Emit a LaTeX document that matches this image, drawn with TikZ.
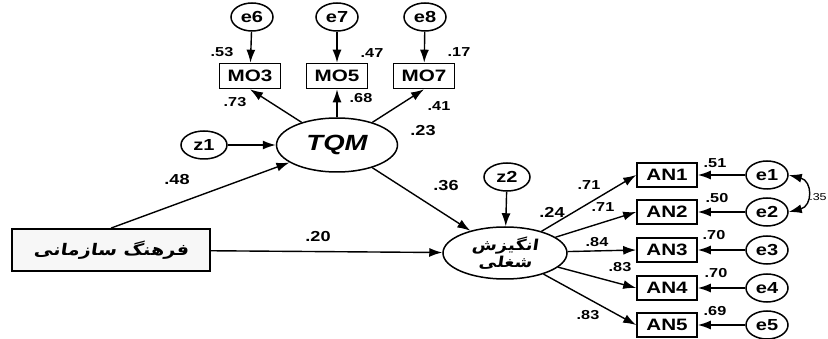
\documentclass[tikz,border=0pt]{standalone}
\usepackage{fontspec}
\setmainfont{Liberation Sans}[FakeStretch=1.25]
\newfontfamily\arabicfont[Script=Arabic,FakeStretch=1.2,FakeSlant=0.15]{DejaVu Sans}
\TeXXeTstate=1
\usetikzlibrary{arrows.meta,shapes.geometric}
\begin{document}
\begin{tikzpicture}[x=1pt,y=-1pt,
  err/.style={ellipse,draw,line width=1.5pt,minimum width=42pt,minimum height=28pt,inner sep=0pt,font=\bfseries\fontsize{16}{16}\selectfont},
  obs/.style={rectangle,draw,line width=1.6pt,minimum width=61pt,minimum height=25pt,inner sep=0pt,font=\bfseries\fontsize{16.5}{16.5}\selectfont},
  lat/.style={ellipse,draw,line width=1.5pt,inner sep=0pt},
  arr/.style={-{Latex[length=13pt,width=9pt]},line width=1.4pt},
  cov/.style={{Latex[length=13pt,width=9pt]}-{Latex[length=13pt,width=9pt]},line width=1.4pt},
  num/.style={inner sep=0pt,font=\bfseries\fontsize{13}{13}\selectfont},
  pnum/.style={inner sep=0pt,font=\bfseries\fontsize{14.5}{14.5}\selectfont}]
\useasboundingbox (0,0) rectangle (828,339);
% top measurement part
\node[err] (e6) at (252,17) {e6};
\node[err] (e7) at (337,17) {e7};
\node[err] (e8) at (425,17) {e8};
\node[obs] (mo3) at (250,76) {MO3};
\node[obs] (mo5) at (337,76) {MO5};
\node[obs] (mo7) at (424,76) {MO7};
\node[lat,minimum width=121pt,minimum height=54pt,font=\bfseries\itshape\fontsize{22}{22}\selectfont] (tqm) at (337,145) {TQM};
\node[err,minimum width=46pt] (z1) at (204,145) {z1};
\node[draw,line width=1.8pt,fill=gray!6,minimum width=198pt,minimum height=42pt,inner sep=0pt,font=\arabicfont\bfseries\fontsize{16}{16}\selectfont] (cul) at (111,250) {\beginR فرهنگ سازمانی\endR};
\node[lat,minimum width=124pt,minimum height=52pt,align=center,font=\arabicfont\bfseries\fontsize{15}{17}\selectfont] (mot) at (505,253) {\beginR انگیزش\endR\\\beginR شغلی\endR};
\node[err,minimum width=46pt] (z2) at (507,177) {z2};
\foreach \i/\y in {1/175,2/212,3/250,4/288,5/325}{
  \node[obs,minimum width=60pt,minimum height=24pt] (an\i) at (667,\y) {AN\i};
  \node[err] (ee\i) at (767,\y) {e\i};
}
% arrows
\draw[arr] (e6) -- (mo3);
\draw[arr] (e7) -- (mo5);
\draw[arr] (e8) -- (mo7);
\draw[arr] (tqm) -- (mo3.south);
\draw[arr] (tqm) -- (mo5);
\draw[arr] (tqm) -- (mo7.south);
\draw[arr] (z1) -- (tqm);
\draw[arr] (cul.north) -- (tqm);
\draw[arr] (cul) -- (mot);
\draw[arr] (tqm) -- (mot);
\draw[arr] (z2) -- (mot);
\foreach \i in {1,...,5}{
  \draw[arr] (mot) -- (an\i.west);
  \draw[arr] (ee\i) -- (an\i);
}
\draw[cov] (ee1.east) .. controls +(24,6) and +(24,-6) .. (ee2.east);
% labels
\node[num] (l53) at (222,52) {.53};
\node[num] (l47) at (372,53) {.47};
\node[num] (l17) at (459,52) {.17};
\node[num] (l73) at (235,102) {.73};
\node[num] (l68) at (361,98) {.68};
\node[num] (l41) at (439,106) {.41};
\node[pnum] (l23) at (423,131) {.23};
\node[pnum] (l48) at (177,180) {.48};
\node[pnum] (l20) at (318,237) {.20};
\node[pnum] (l36) at (446,186) {.36};
\node[pnum] (l24) at (552,212) {.24};
\node[num] (la1) at (589,185) {.71};
\node[num] (la2) at (603,207) {.71};
\node[num] (la3) at (597,242) {.84};
\node[num] (la4) at (620,267) {.83};
\node[num] (la5) at (588,315) {.83};
\node[num] (lb1) at (715,163) {.51};
\node[num] (lb2) at (717,198) {.50};
\node[num] (lb3) at (714,235) {.70};
\node[num] (lb4) at (716,273) {.70};
\node[num] (lb5) at (715,311) {.69};
\node[num,font=\fontsize{10}{10}\selectfont] (l35) at (818,197) {.35};
\end{tikzpicture}
\end{document}
